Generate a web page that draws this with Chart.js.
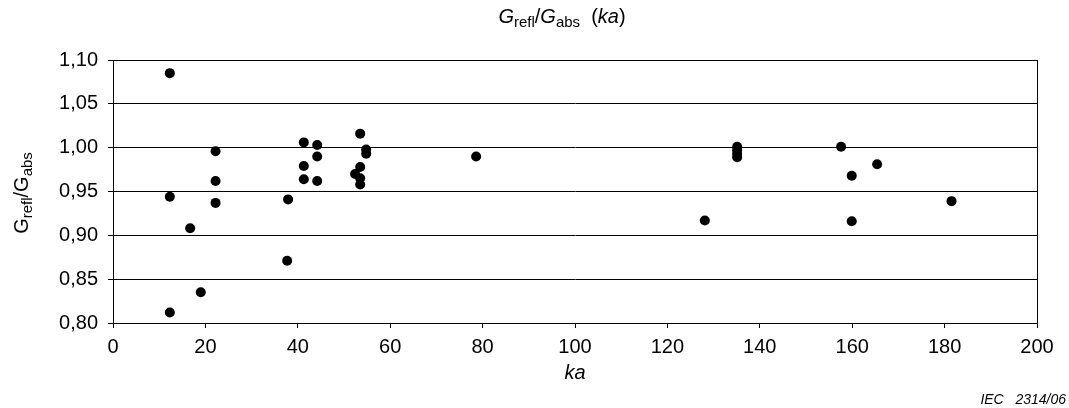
<!DOCTYPE html>
<html>
<head>
<meta charset="utf-8">
<script src="https://cdn.jsdelivr.net/npm/chart.js@4"></script>
<style>
  body { margin: 0; background: #fff; }
  canvas { display: block; }
</style>
</head>
<body>
<canvas id="chart" width="1069" height="408"></canvas>
<script>
var kaValues = [12.3, 12.3, 12.3, 16.7, 19.0, 22.2, 22.2, 22.2, 37.7, 37.9,
  41.3, 41.3, 41.3, 44.2, 44.2, 44.2, 52.4, 53.5, 53.5, 53.5, 53.5, 54.8, 54.8,
  78.6, 128.1, 135.1, 135.1, 135.1, 135.1, 157.6, 159.9, 159.9, 165.4, 181.5];
var ratioValues = [1.085, 0.944, 0.812, 0.908, 0.835, 0.996, 0.962, 0.937, 0.871, 0.941,
  1.006, 0.979, 0.964, 1.003, 0.990, 0.962, 0.970, 1.016, 0.978, 0.965, 0.958, 0.998, 0.993,
  0.990, 0.917, 1.001, 0.997, 0.993, 0.989, 1.001, 0.968, 0.916, 0.981, 0.939];

var xTicks = [0, 20, 40, 60, 80, 100, 120, 140, 160, 180, 200];
var yTicks = [0.80, 0.85, 0.90, 0.95, 1.00, 1.05, 1.10];

var points = kaValues.map(function (k, i) { return { x: k, y: ratioValues[i] }; });

var FONT = 'Liberation Sans, Arial, sans-serif';

// draws text made of pieces, some italic, some subscript
function richText(ctx, parts, x, y, size) {
  var widths = parts.map(function (p) {
    ctx.font = (p.it ? 'italic ' : '') + (p.sub ? size * 0.75 : size) + 'px ' + FONT;
    return ctx.measureText(p.t).width;
  });
  var total = widths.reduce(function (a, b) { return a + b; }, 0);
  var cx = x - total / 2;
  ctx.textAlign = 'left';
  ctx.textBaseline = 'middle';
  parts.forEach(function (p, i) {
    ctx.font = (p.it ? 'italic ' : '') + (p.sub ? size * 0.75 : size) + 'px ' + FONT;
    ctx.fillText(p.t, cx, y + (p.sub ? size * 0.3 : 0));
    cx += widths[i];
  });
}

var decorations = {
  id: 'decorations',
  afterDraw: function (chart) {
    var ctx = chart.ctx;
    var a = chart.chartArea;
    ctx.save();
    ctx.strokeStyle = '#000';
    ctx.lineWidth = 1;
    ctx.strokeRect(a.left + 0.5, a.top + 0.5, a.right - a.left, a.bottom - a.top);
    ctx.fillStyle = '#000';

    richText(ctx, [
      { t: 'G', it: true }, { t: 'refl', sub: true }, { t: '/' },
      { t: 'G', it: true }, { t: 'abs', sub: true }, { t: '  (' },
      { t: 'ka', it: true }, { t: ')' }
    ], 562, 17, 20);

    richText(ctx, [{ t: 'ka', it: true }], 575, 373, 20);

    ctx.save();
    ctx.translate(22, 193);
    ctx.rotate(-Math.PI / 2);
    richText(ctx, [
      { t: 'G' }, { t: 'refl', sub: true }, { t: '/' },
      { t: 'G' }, { t: 'abs', sub: true }
    ], 0, 0, 20);
    ctx.restore();

    ctx.font = 'italic 14px ' + FONT;
    ctx.textAlign = 'right';
    ctx.textBaseline = 'middle';
    ctx.fillText('IEC   2314/06', 1066, 400);
    ctx.restore();
  }
};

var ctx = document.getElementById('chart').getContext('2d');
new Chart(ctx, {
  type: 'scatter',
  data: {
    datasets: [{
      data: points,
      backgroundColor: '#000',
      borderWidth: 0,
      pointRadius: 5,
      pointHoverRadius: 5
    }]
  },
  options: {
    responsive: false,
    animation: false,
    layout: { padding: { top: 60, right: 32, left: 0, bottom: 0 } },
    plugins: { legend: { display: false }, tooltip: { enabled: false } },
    scales: {
      x: {
        type: 'linear',
        min: 0,
        max: 200,
        afterFit: function (s) { s.height = 85; },
        afterBuildTicks: function (s) { s.ticks = xTicks.map(function (v) { return { value: v }; }); },
        grid: { drawOnChartArea: false, drawTicks: true, tickLength: 5, color: '#000' },
        border: { color: '#000' },
        ticks: { color: '#000', font: { family: FONT, size: 20 }, padding: 7, maxRotation: 0 }
      },
      y: {
        min: 0.8,
        max: 1.1,
        afterFit: function (s) { s.width = 113; },
        afterBuildTicks: function (s) { s.ticks = yTicks.map(function (v) { return { value: v }; }); },
        grid: { color: '#000', tickLength: 5 },
        border: { color: '#000' },
        ticks: {
          color: '#000',
          font: { family: FONT, size: 20 },
          padding: 10,
          callback: function (v) { return v.toFixed(2).replace('.', ','); }
        }
      }
    }
  },
  plugins: [decorations]
});
</script>
</body>
</html>
